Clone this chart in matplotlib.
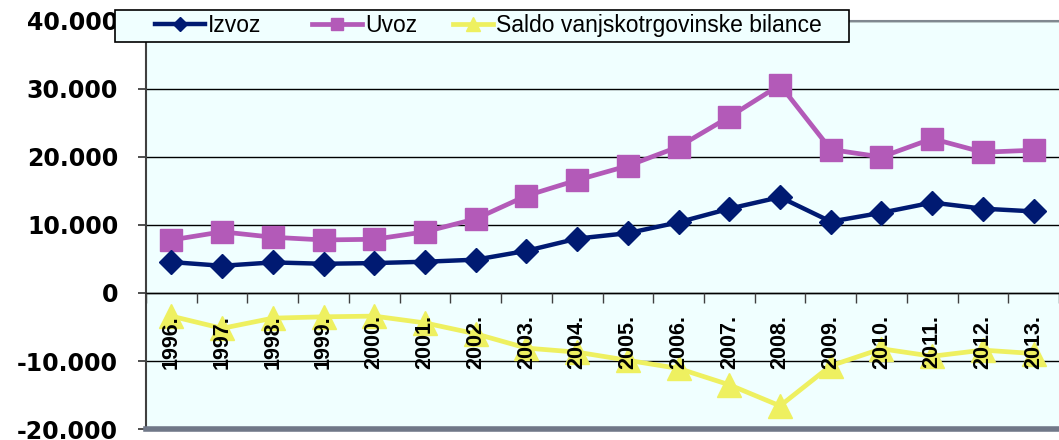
import matplotlib
matplotlib.use('Agg')
import matplotlib.pyplot as plt
from matplotlib.patches import Rectangle
from matplotlib.ticker import FuncFormatter, FixedLocator

plt.rcParams['font.family'] = ['Liberation Sans', 'DejaVu Sans']

years = ['1996.', '1997.', '1998.', '1999.', '2000.', '2001.', '2002.', '2003.', '2004.',
         '2005.', '2006.', '2007.', '2008.', '2009.', '2010.', '2011.', '2012.', '2013.']
izvoz = [4550, 4000, 4500, 4300, 4400, 4600, 4900, 6200, 8000,
         8800, 10400, 12400, 14100, 10500, 11800, 13300, 12400, 12000]
uvoz = [7800, 9000, 8200, 7800, 7900, 9000, 10900, 14300, 16600,
        18700, 21500, 25900, 30600, 21100, 20000, 22700, 20700, 21000]
saldo = [-3400, -5200, -3700, -3500, -3400, -4400, -6000, -8100, -8700,
         -9900, -11100, -13500, -16600, -10700, -8200, -9300, -8400, -8900]

W, H = 1059, 440
fig = plt.figure(figsize=(W / 100, H / 100), dpi=100)
ax = fig.add_axes([146 / W, 1 - 429 / H, 1 - 146 / W, (429 - 21) / H])
ax.set_facecolor('#F0FFFF')

x = list(range(len(years)))
l1, = ax.plot(x, izvoz, color='#001A72', lw=3.2, marker='D', ms=12, label='Izvoz', zorder=2.4)
l2, = ax.plot(x, uvoz, color='#B35AB8', lw=3.4, marker='s', ms=15.5, label='Uvoz', zorder=2.3)
l3, = ax.plot(x, saldo, color='#EEF060', lw=3.4, marker='^', ms=17,
              label='Saldo vanjskotrgovinske bilance', zorder=2.2)

ax.set_xlim(-0.5, len(years) - 0.5)
ax.set_ylim(-20000, 40000)
ax.set_yticks(range(-20000, 40001, 10000))
ax.yaxis.set_major_formatter(FuncFormatter(lambda v, p: '{:,.0f}'.format(v).replace(',', '.')))
ax.grid(axis='y', color='black', lw=1)
ax.tick_params(axis='y', length=6, width=1.2, color='#303030', labelsize=17, pad=14)
for t in ax.get_yticklabels():
    t.set_fontweight('bold')
    t.set_family('DejaVu Sans')

# x axis crosses at zero, labels above the lines
ax.spines['bottom'].set_position(('data', 0))
ax.spines['bottom'].set_color('black')
ax.spines['bottom'].set_linewidth(1)
ax.set_xticks(x)
ax.set_xticklabels(years, rotation=90, fontsize=15.5, fontweight='bold', va='top')
ax.xaxis.set_minor_locator(FixedLocator([i + 0.5 for i in range(-1, len(years))]))
ax.tick_params(axis='x', which='major', length=0, pad=16)
ax.tick_params(axis='x', which='minor', length=7, width=1, color='#404040')
ax.xaxis.set_zorder(3)

ax.spines['right'].set_visible(False)
ax.spines['top'].set_color('#808890')
ax.spines['top'].set_linewidth(1.5)
ax.spines['left'].set_color('#404040')
ax.spines['left'].set_linewidth(1.5)
ax.axhline(-20000, color='#707888', lw=4, clip_on=False, zorder=5)

# legend box
fig.patches.append(Rectangle((115 / W, 1 - 42 / H), (849 - 115) / W, 32 / H,
                             transform=fig.transFigure, facecolor='#F0FFFF',
                             edgecolor='black', lw=1.2, zorder=4))
# one legend per entry so each sits where the reference has it
for line, x0, hl in [(l1, 155, 2.2), (l2, 312, 2.2), (l3, 453, 1.75)]:
    fig.legend(handles=[line], loc='upper left', bbox_to_anchor=(x0 / W, 1 - 14 / H),
               frameon=False, fontsize=16.5, handlelength=hl, handletextpad=0.12,
               markerscale=0.6, borderaxespad=0, borderpad=0)

fig.savefig('out.png', dpi=100)
